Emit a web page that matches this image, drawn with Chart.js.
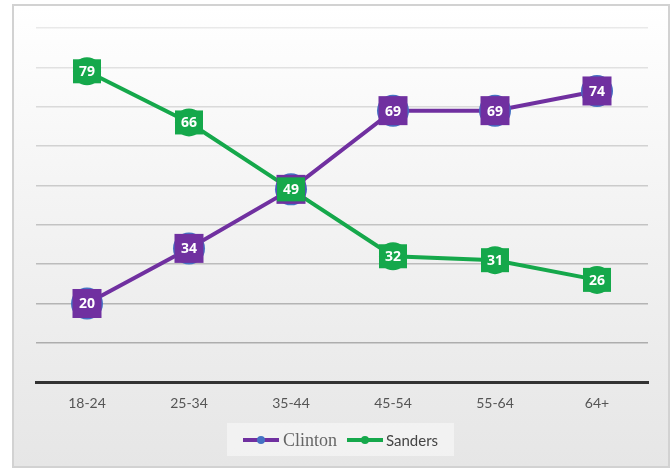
<!DOCTYPE html>
<html>
<head>
<meta charset="utf-8">
<script src="https://cdn.jsdelivr.net/npm/chart.js@4/dist/chart.umd.min.js"></script>
<style>
  html, body { margin: 0; padding: 0; background: #fff; }
  #frame {
    position: absolute; left: 12px; top: 4px; width: 654px; height: 460px;
    border: 2px solid #d2d2d2;
    background: linear-gradient(#ffffff, #f3f3f3 45%, #e6e6e6);
  }
  #wrap { position: absolute; left: 0; top: 0; width: 672px; height: 471px; }
</style>
</head>
<body>
<div id="frame"></div>
<div id="wrap"><canvas id="chart"></canvas></div>
<script>
const ageGroups = ['18-24', '25-34', '35-44', '45-54', '55-64', '64+'];
const clintonVals = [20, 34, 49, 69, 69, 74];
const sandersVals = [79, 66, 49, 32, 31, 26];

const purple = '#7030a0';
const green = '#15a84b';
const blue = '#4472c4';

// value labels: purple boxes for Clinton, green boxes for Sanders (Sanders on top)
const labelBoxes = {
    id: 'labelBoxes',
    afterDatasetsDraw(chart) {
        const ctx = chart.ctx;
        ctx.save();
        ctx.font = 'bold 14px "Open Sans", sans-serif';
        ctx.textAlign = 'center';
        ctx.textBaseline = 'middle';
        [1, 0].forEach(i => {
            const ds = chart.data.datasets[i];
            const meta = chart.getDatasetMeta(i);
            meta.data.forEach((pt, j) => {
                if (ds.label === 'Clinton') {
                    ctx.fillStyle = purple;
                    ctx.fillRect(pt.x - 14.5, pt.y - 14.5, 29, 29);
                } else {
                    ctx.fillStyle = green;
                    ctx.fillRect(pt.x - 14, pt.y - 12, 28, 24);
                }
                ctx.fillStyle = '#fff';
                ctx.fillText(ds.data[j], pt.x, pt.y + 1);
            });
        });
        ctx.restore();
    }
};

// legend drawn by hand, Clinton in a serif face like the original
const bottomLegend = {
    id: 'bottomLegend',
    afterDraw(chart) {
        const ctx = chart.ctx;
        const y = 440;
        ctx.save();
        ctx.fillStyle = 'rgba(255,255,255,0.45)';
        ctx.fillRect(227, 423, 227, 33);
        ctx.lineWidth = 4;
        ctx.strokeStyle = purple;
        ctx.beginPath(); ctx.moveTo(243, y); ctx.lineTo(279, y); ctx.stroke();
        ctx.fillStyle = blue;
        ctx.beginPath(); ctx.arc(261, y, 4, 0, Math.PI * 2); ctx.fill();
        ctx.strokeStyle = green;
        ctx.beginPath(); ctx.moveTo(347, y); ctx.lineTo(383, y); ctx.stroke();
        ctx.fillStyle = green;
        ctx.beginPath(); ctx.arc(365, y, 4, 0, Math.PI * 2); ctx.fill();
        ctx.fillStyle = '#666';
        ctx.textBaseline = 'middle';
        ctx.font = '18px "Liberation Serif", serif';
        ctx.fillText('Clinton', 283, y + 1);
        ctx.font = '15px Lato, sans-serif';
        ctx.fillStyle = '#444';
        ctx.fillText('Sanders', 386, y + 1);
        ctx.restore();
    }
};

new Chart(document.getElementById('chart'), {
    type: 'line',
    data: {
        labels: ageGroups,
        datasets: [
            {
                label: 'Sanders',
                data: sandersVals,
                borderColor: green,
                borderWidth: 4,
                pointRadius: 14,
                pointBackgroundColor: green,
                pointBorderWidth: 0
            },
            {
                label: 'Clinton',
                data: clintonVals,
                borderColor: purple,
                borderWidth: 4,
                pointRadius: 16,
                pointBackgroundColor: blue,
                pointBorderWidth: 0
            }
        ]
    },
    options: {
        responsive: true,
        maintainAspectRatio: false,
        animation: false,
        layout: { padding: { left: 36, right: 24, top: 28, bottom: 54 } },
        plugins: {
            legend: { display: false },
            tooltip: { enabled: false }
        },
        scales: {
            x: {
                offset: true,
                grid: { display: false },
                border: { display: true, color: '#333', width: 3 },
                ticks: {
                    color: '#555',
                    font: { family: 'Lato, sans-serif', size: 14 },
                    padding: 5
                }
            },
            y: {
                min: 0,
                max: 90,
                ticks: { display: false, stepSize: 10 },
                border: { display: false },
                grid: {
                    drawTicks: false,
                    lineWidth: 1.5,
                    color: ctx => {
                        const v = ctx.tick ? ctx.tick.value : 0;
                        const g = Math.round(165 + (v / 90) * 68);
                        return 'rgb(' + g + ',' + g + ',' + g + ')';
                    }
                }
            }
        }
    },
    plugins: [labelBoxes, bottomLegend]
});
</script>
</body>
</html>
